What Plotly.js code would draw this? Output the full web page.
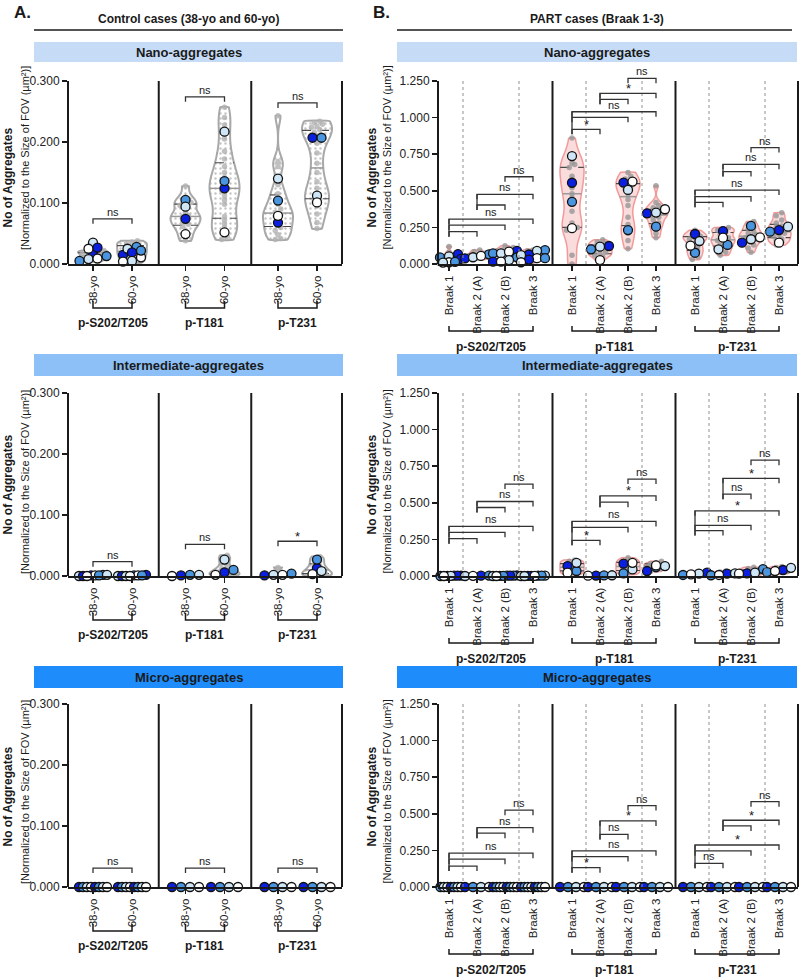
<!DOCTYPE html>
<html>
<head>
<meta charset="utf-8">
<script src="https://cdn.plot.ly/plotly-3.0.1.min.js"></script>
<style>
  html, body { margin: 0; padding: 0; background: #ffffff; }
  #chart { width: 800px; height: 978px; }
</style>
</head>
<body>
<div id="chart"></div>
<script>
// ---------- categories and labels ----------
const markerGroups = ['p-S202/T205', 'p-T181', 'p-T231'];
const ctrlCats = ['38-yo', '60-yo'];
const partCats = ['Braak 1', 'Braak 2 (A)', 'Braak 2 (B)', 'Braak 3'];
const sizeClasses = ['Nano-aggregates', 'Intermediate-aggregates', 'Micro-aggregates'];
const ctrlTickVals = [0, 0.1, 0.2, 0.3];
const partTickVals = [0, 0.25, 0.5, 0.75, 1.0, 1.25];
const yTitleMain = 'No of Aggregates';
const yTitleSub = '[Normalized to the Size of FOV (µm²)]';

// ---------- control cases: per-image values (grey) and per-case values ----------
// order: [S202 38-yo, S202 60-yo, T181 38-yo, T181 60-yo, T231 38-yo, T231 60-yo]
// per-case order: dark, mid, light, white (repeated for a second slide)
const ctrlNanoGrey = [
  [0.004, 0.006, 0.008, 0.010, 0.012, 0.013, 0.015, 0.017, 0.018, 0.020, 0.021, 0.022],
  [0.002, 0.005, 0.008, 0.012, 0.015, 0.018, 0.021, 0.024, 0.027, 0.030, 0.033, 0.036, 0.038],
  [0.128, 0.110, 0.101, 0.096, 0.085, 0.080, 0.078, 0.075, 0.070, 0.065, 0.062, 0.055, 0.045, 0.038, 0.100],
  [0.257, 0.240, 0.228, 0.205, 0.185, 0.172, 0.160, 0.150, 0.142, 0.135, 0.128, 0.124, 0.120, 0.112, 0.105, 0.098, 0.078, 0.072, 0.066, 0.060, 0.052, 0.045, 0.040],
  [0.243, 0.168, 0.160, 0.130, 0.115, 0.108, 0.098, 0.090, 0.085, 0.082, 0.078, 0.072, 0.066, 0.060, 0.055, 0.048, 0.042, 0.040],
  [0.234, 0.232, 0.229, 0.226, 0.224, 0.220, 0.216, 0.210, 0.198, 0.182, 0.165, 0.150, 0.135, 0.124, 0.116, 0.110, 0.106, 0.104, 0.095, 0.082, 0.068, 0.058]
];
const ctrlNanoCases = [
  [0.016, 0.005, 0.035, 0.025, 0.027, 0.013, 0.008, 0.009],
  [0.015, 0.028, 0.025, 0.011, 0.019, 0.022, 0.005, 0.004],
  [0.074, 0.105, 0.094, 0.049],
  [0.124, 0.136, 0.217, 0.052],
  [0.068, 0.104, 0.140, 0.079],
  [0.207, 0.207, 0.112, 0.101]
];
const ctrlInterGrey = [
  [0, 0, 0, 0.001, 0, 0.001, 0, 0],
  [0, 0.001, 0, 0, 0.001, 0, 0],
  [0, 0.001, 0, 0.002, 0.001, 0],
  [0.034, 0.030, 0.026, 0.021, 0.016, 0.012, 0.010, 0.008, 0.006, 0.004, 0.003, 0.002, 0.001, 0],
  [0.014, 0.008, 0.004, 0.002, 0.001, 0, 0],
  [0.032, 0.028, 0.024, 0.020, 0.016, 0.013, 0.010, 0.008, 0.006, 0.004, 0.002, 0.001, 0]
];
const ctrlInterCases = [
  [0.001, 0.002, 0.000, 0.001, 0.000, 0.001, 0.002, 0.000],
  [0.002, 0.001, 0.000, 0.001, 0.000, 0.001, 0.000, 0.000],
  [0.001, 0.002, 0.002, 0.000],
  [0.006, 0.010, 0.027, 0.002],
  [0.001, 0.004, 0.002, 0.002],
  [0.013, 0.027, 0.008, 0.003]
];
const ctrlMicroGrey = [[], [], [], [], [], []];
const ctrlMicroCases = [
  [0, 0, 0, 0, 0, 0, 0, 0],
  [0, 0, 0, 0, 0, 0, 0, 0],
  [0, 0, 0, 0],
  [0, 0, 0, 0],
  [0, 0, 0, 0],
  [0, 0, 0, 0]
];

// ---------- PART cases ----------
// order: S202 (Braak 1, 2A, 2B, 3), T181 (...), T231 (...)
const partNanoGrey = [
  [0.120, 0.080, 0.062, 0.050, 0.042, 0.034, 0.026, 0.020, 0.015, 0.010, 0.006, 0.003],
  [0.095, 0.085, 0.075, 0.068, 0.062, 0.055, 0.050, 0.045, 0.040, 0.035, 0.030],
  [0.125, 0.112, 0.102, 0.096, 0.090, 0.085, 0.080, 0.075, 0.070, 0.065, 0.058, 0.050, 0.040, 0.030, 0.020, 0.012],
  [0.100, 0.095, 0.090, 0.085, 0.080, 0.075, 0.070, 0.065, 0.060, 0.050, 0.040, 0.030, 0.020, 0.010],
  [0.860, 0.720, 0.690, 0.680, 0.660, 0.600, 0.570, 0.520, 0.480, 0.450, 0.360, 0.280, 0.250, 0.235, 0.230, 0.060, 0.000],
  [0.165, 0.150, 0.140, 0.130, 0.120, 0.110, 0.100, 0.090, 0.080, 0.070, 0.060, 0.050, 0.030],
  [0.625, 0.600, 0.580, 0.560, 0.545, 0.530, 0.510, 0.480, 0.440, 0.400, 0.320, 0.270, 0.240, 0.210, 0.160, 0.105],
  [0.535, 0.420, 0.400, 0.385, 0.370, 0.360, 0.350, 0.340, 0.330, 0.320, 0.300, 0.280, 0.265, 0.240, 0.210, 0.180],
  [0.230, 0.210, 0.200, 0.190, 0.180, 0.170, 0.160, 0.140, 0.120, 0.100, 0.090, 0.070, 0.050, 0.030],
  [0.250, 0.240, 0.230, 0.220, 0.200, 0.180, 0.170, 0.160, 0.150, 0.130, 0.120, 0.100, 0.080, 0.060],
  [0.290, 0.270, 0.250, 0.240, 0.220, 0.210, 0.200, 0.190, 0.180, 0.170, 0.160, 0.150, 0.130, 0.110, 0.080],
  [0.350, 0.330, 0.300, 0.280, 0.260, 0.250, 0.240, 0.220, 0.210, 0.200, 0.190, 0.170, 0.160, 0.150, 0.130]
];
const partNanoCases = [
  [0.068, 0.045, 0.052, 0.012, 0.035, 0.015, 0.010, 0.008],
  [0.039, 0.066, 0.046, 0.055],
  [0.089, 0.073, 0.073, 0.084, 0.016, 0.046, 0.027, 0.016],
  [0.065, 0.095, 0.090, 0.040, 0.030, 0.040, 0.060, 0.012],
  [0.555, 0.425, 0.737, 0.245],
  [0.123, 0.100, 0.118, 0.027],
  [0.556, 0.232, 0.506, 0.563],
  [0.346, 0.255, 0.351, 0.374],
  [0.205, 0.077, 0.157, 0.125],
  [0.225, 0.130, 0.100, 0.180],
  [0.146, 0.260, 0.169, 0.182],
  [0.232, 0.221, 0.255, 0.146]
];
const partInterGrey = [
  [0.004, 0.002, 0.001, 0, 0, 0],
  [0.002, 0.001, 0],
  [0.006, 0.004, 0.002, 0.001, 0],
  [0.004, 0.002, 0.001, 0],
  [0.110, 0.100, 0.090, 0.080, 0.070, 0.060, 0.050, 0.040, 0.030, 0.020, 0.010],
  [0.004, 0.002, 0.001, 0],
  [0.125, 0.110, 0.100, 0.090, 0.080, 0.070, 0.060, 0.050, 0.040, 0.030, 0.020, 0.010],
  [0.100, 0.090, 0.085, 0.080, 0.075, 0.070, 0.065, 0.060, 0.050, 0.040, 0.030],
  [0.030, 0.025, 0.020, 0.015, 0.010, 0.006, 0.003, 0],
  [0.035, 0.028, 0.022, 0.016, 0.012, 0.008, 0.004, 0],
  [0.060, 0.052, 0.045, 0.040, 0.034, 0.028, 0.022, 0.016, 0.010, 0.005],
  [0.065, 0.058, 0.052, 0.046, 0.040, 0.035, 0.030, 0.025, 0.020, 0.012]
];
const partInterCases = [
  [0.003, 0.002, 0.001, 0.000, 0.002, 0.000, 0.001, 0.000],
  [0.002, 0.003, 0.000, 0.001],
  [0.004, 0.003, 0.002, 0.001, 0.002, 0.001, 0.000, 0.000],
  [0.002, 0.001, 0.003, 0.000, 0.001, 0.002, 0.000, 0.001],
  [0.068, 0.034, 0.090, 0.023],
  [0.003, 0.004, 0.005, 0.002],
  [0.084, 0.018, 0.045, 0.090],
  [0.034, 0.061, 0.068, 0.072],
  [0.023, 0.007, 0.016, 0.011],
  [0.016, 0.005, 0.018, 0.007],
  [0.018, 0.047, 0.023, 0.016],
  [0.041, 0.027, 0.056, 0.034]
];
const partMicroGrey = [[], [], [], [], [], [], [], [], [], [], [], []];
const partMicroCases = [
  [0, 0, 0, 0, 0, 0, 0, 0], [0, 0, 0, 0], [0, 0, 0, 0, 0, 0, 0, 0], [0, 0, 0, 0, 0, 0, 0, 0],
  [0, 0, 0, 0], [0, 0, 0, 0], [0, 0, 0, 0], [0, 0, 0, 0],
  [0, 0, 0, 0], [0, 0, 0, 0], [0, 0, 0, 0], [0, 0, 0, 0]
];

// ---------- multiple-comparison results ----------
const ctrlSig = [['ns', 'ns', 'ns'], ['ns', 'ns', '*'], ['ns', 'ns', 'ns']];
// pairs: B1-B2A, B1-B2B, B1-B3, B2A-B2B, B2A-B3, B2B-B3 ('' = line drawn without a label)
const partPairs = [[0, 1], [0, 2], [0, 3], [1, 2], [1, 3], [2, 3]];
const partSig = [
  [['', '', 'ns', '', 'ns', 'ns'], ['*', '', 'ns', '', '*', 'ns'], ['', '', 'ns', '', 'ns', 'ns']],
  [['', '', 'ns', '', 'ns', 'ns'], ['*', '', 'ns', '', '*', 'ns'], ['', 'ns', '*', 'ns', '*', 'ns']],
  [['', '', 'ns', '', 'ns', 'ns'], ['*', '', 'ns', 'ns', '*', 'ns'], ['ns', '', '*', '', '*', 'ns']]
];

// ---------- drawing geometry ----------
const W = 800, H = 978;
const FONT = 'Liberation Sans, Arial, Helvetica, sans-serif';
const PLOT_H = 183;
const ROW_ZERO = [264, 576, 887];
const HEADER_Y = [[42, 62], [354, 376], [666, 688]];
const HEADER_COLORS = ['#c6dcf6', '#8cc0f6', '#1e8cfa'];
const TITLE_BOLD_Y = [178, 485, 797];
const TITLE_REG_Y = [158, 482, 792];
const CASE_COLORS = ['#0b1fe0', '#4a95e0', '#cfe6f7', '#ffffff'];
const COLS = [
  { left: 68, right: 342, first: 93, groupStep: 92.5, catStep: 39, yTop: 0.3,
    tickVals: ctrlTickVals, cats: ctrlCats, violinHalf: 15, greyHalf: 12, caseHalf: 14,
    header: [34, 343], titleX: [7.5, 25], bracketDrop: 44, labelDrop: 59, groupTick: 7,
    violinLine: '#a8a8a8', violinFill: null, greyColor: 'rgba(178,178,178,0.8)' },
  { left: 438, right: 798, first: 449, groupStep: 123, catStep: 28, yTop: 1.25,
    tickVals: partTickVals, cats: partCats, violinHalf: 12, greyHalf: 10, caseHalf: 12,
    header: [397, 797], titleX: [371.5, 386.5], bracketDrop: 67, labelDrop: 83, groupTick: 5,
    violinLine: '#f29a9a', violinFill: 'rgba(246,196,196,0.6)', greyColor: 'rgba(150,150,150,0.8)' }
];
// bracket heights (data units) for the significance lines
const ctrlBracketY = [[0.074, 0.274, 0.264], [0.0235, 0.052, 0.057], [0.031, 0.031, 0.031]];
const partBracketY = [
  [[0.221, 0.266, 0.307, 0.403, 0.476, 0.596], [0.920, 1.002, 1.040, 1.125, 1.166, 1.268], [0.421, 0.460, 0.505, 0.631, 0.681, 0.795]],
  [[0.255, 0.298, 0.339, 0.468, 0.509, 0.628], [0.244, 0.332, 0.373, 0.504, 0.547, 0.662], [0.310, 0.346, 0.445, 0.559, 0.667, 0.791]],
  [[0.143, 0.190, 0.231, 0.368, 0.405, 0.525], [0.132, 0.208, 0.247, 0.359, 0.451, 0.556], [0.162, 0.247, 0.287, 0.417, 0.456, 0.583]]
];

const panelGrey = [[ctrlNanoGrey, partNanoGrey], [ctrlInterGrey, partInterGrey], [ctrlMicroGrey, partMicroGrey]];
const panelCases = [[ctrlNanoCases, partNanoCases], [ctrlInterCases, partInterCases], [ctrlMicroCases, partMicroCases]];

// ---------- helpers ----------
const px2x = p => p / W;
const px2y = p => 1 - p / H;
const catX = (C, g, k) => g * C.groupStep + k * C.catStep;        // data x (1 unit = 1 px)
const catPx = (C, g, k) => C.first + catX(C, g, k);
const valPx = (r, C, v) => ROW_ZERO[r] - v * PLOT_H / C.yTop;

function quantile(sorted, p) {
  const pos = (sorted.length - 1) * p;
  const lo = Math.floor(pos), hi = Math.ceil(pos);
  return sorted[lo] + (sorted[hi] - sorted[lo]) * (pos - lo);
}

// Gaussian kernel density, scaled to a fixed maximum half-width
function violinProfile(vals, maxHalf) {
  const s = [...vals].sort((a, b) => a - b);
  const n = s.length;
  const mean = s.reduce((a, b) => a + b, 0) / n;
  const sd = Math.sqrt(s.reduce((a, b) => a + (b - mean) * (b - mean), 0) / (n - 1));
  const iqr = quantile(s, 0.75) - quantile(s, 0.25);
  let spread = Math.min(sd, iqr / 1.34);
  if (!(spread > 0)) spread = sd;
  const bw = 0.9 * spread * Math.pow(n, -0.2) * 0.65;
  const dens = y => s.reduce((acc, v) => { const u = (y - v) / bw; return acc + Math.exp(-0.5 * u * u); }, 0);
  const lo = s[0], hi = s[n - 1];
  const N = 90;
  const ys = [], ds = [];
  for (let i = 0; i <= N; i++) { const y = lo + (hi - lo) * i / N; ys.push(y); ds.push(dens(y)); }
  const dmax = Math.max(...ds);
  return {
    sorted: s, ys,
    halves: ds.map(d => maxHalf * d / dmax),
    halfAt: y => maxHalf * dens(y) / dmax
  };
}

// rows of near-equal values are spread evenly sideways
function swarmOffsets(vals, pxPerUnit, diam, maxHalf) {
  const order = vals.map((v, i) => i).sort((a, b) => vals[a] - vals[b] || a - b);
  const off = new Array(vals.length).fill(0);
  let row = [], start = 0;
  const flush = () => {
    const n = row.length;
    let step = diam;
    if (n > 1 && (n - 1) / 2 * step > maxHalf) step = 2 * maxHalf / (n - 1);
    row.forEach((j, m) => { off[j] = (m - (n - 1) / 2) * step; });
    row = [];
  };
  order.forEach(j => {
    if (row.length && (vals[j] - start) * pxPerUnit > 0.6 * diam) flush();
    if (!row.length) start = vals[j];
    row.push(j);
  });
  if (row.length) flush();
  return off;
}

// ---------- build ----------
const violinTraces = [], statTraces = [], greyTraces = [], caseTraces = [];
const shapes = [], annotations = [];
const layout = {
  width: W, height: H,
  margin: { l: 0, r: 0, t: 0, b: 0 },
  paper_bgcolor: '#ffffff', plot_bgcolor: 'rgba(0,0,0,0)',
  showlegend: false,
  font: { family: FONT, color: '#1a1a1a' },
  shapes, annotations
};

function addText(text, xp, yp, size, opts) {
  annotations.push(Object.assign({
    text, x: px2x(xp), y: px2y(yp), xref: 'paper', yref: 'paper',
    showarrow: false, xanchor: 'center', yanchor: 'middle',
    font: { family: FONT, size, color: '#1a1a1a' }
  }, opts || {}));
}
function addPath(pts, color, width, dash) {
  const d = pts.map((p, i) => (i ? 'L' : 'M') + px2x(p[0]).toFixed(5) + ',' + px2y(p[1]).toFixed(5)).join(' ');
  shapes.push({ type: 'path', path: d, xref: 'paper', yref: 'paper',
    line: { color, width, dash: dash || 'solid' } });
}
function addRect(x0, y0, x1, y1, color) {
  shapes.push({ type: 'rect', xref: 'paper', yref: 'paper', layer: 'below',
    x0: px2x(x0), x1: px2x(x1), y0: px2y(y1), y1: px2y(y0),
    fillcolor: color, line: { width: 0 } });
}

// panel letters and column titles
addText('<b>A.</b>', 22, 13, 17);
addText('<b>B.</b>', 381, 13, 17);
addText('<b>Control cases (38-yo and 60-yo)</b>', 188.5, 19, 12);
addText('<b>PART cases (Braak 1-3)</b>', 597, 19, 12);
addPath([[34, 30], [343, 30]], '#1a1a1a', 1.5);
addPath([[397, 30], [792, 30]], '#1a1a1a', 1.5);

for (let r = 0; r < 3; r++) {
  for (let c = 0; c < 2; c++) {
    const C = COLS[c];
    const n = r * 2 + c + 1;
    const xa = n === 1 ? 'x' : 'x' + n;
    const ya = n === 1 ? 'y' : 'y' + n;
    const pxU = PLOT_H / C.yTop;
    const nc = C.cats.length;
    const zero = ROW_ZERO[r], top = zero - PLOT_H;

    // header band
    addRect(C.header[0], HEADER_Y[r][0], C.header[1], HEADER_Y[r][1], HEADER_COLORS[r]);
    addText('<b>' + sizeClasses[r] + '</b>', (C.header[0] + C.header[1]) / 2, (HEADER_Y[r][0] + HEADER_Y[r][1]) / 2 + 0.5, 13);

    // axes
    const tickX = [], tickT = [];
    markerGroups.forEach((_, g) => C.cats.forEach((cat, k) => { tickX.push(catX(C, g, k)); tickT.push(cat); }));
    layout[n === 1 ? 'xaxis' : 'xaxis' + n] = {
      domain: [px2x(C.left), px2x(C.right)], range: [C.left - C.first, C.right - C.first],
      anchor: ya, tickmode: 'array', tickvals: tickX, ticktext: tickT, tickangle: -90,
      ticks: 'outside', ticklen: 5, tickwidth: 1.5, tickcolor: '#1a1a1a',
      showline: true, linewidth: 2, linecolor: '#1a1a1a', showgrid: false, zeroline: false,
      tickfont: { family: FONT, size: 11.5, color: '#222' }, fixedrange: true
    };
    layout[n === 1 ? 'yaxis' : 'yaxis' + n] = {
      domain: [px2y(zero), px2y(top)], range: [0, C.yTop],
      anchor: xa, tickmode: 'array', tickvals: C.tickVals, ticktext: C.tickVals.map(v => v.toFixed(3)),
      ticks: 'outside', ticklen: 5, tickwidth: 1.5, tickcolor: '#1a1a1a',
      showline: false, showgrid: false, zeroline: false,
      tickfont: { family: FONT, size: 12, color: '#222' }, fixedrange: true
    };

    // frame: y axis line, group dividers, right edge
    addPath([[C.left, zero], [C.left, top]], '#1a1a1a', 2);
    addPath([[C.right, zero], [C.right, top]], '#1a1a1a', 2);
    for (let g = 0; g < 2; g++) {
      const xd = catPx(C, g, nc - 1) + (C.groupStep - (nc - 1) * C.catStep) / 2;
      addPath([[xd, zero], [xd, top]], '#1a1a1a', 2);
    }
    if (c === 1) {
      for (let g = 0; g < 3; g++) {
        [0.5, 2.5].forEach(k => {
          const xd = C.first + g * C.groupStep + k * C.catStep;
          addPath([[xd, zero], [xd, top]], '#8f8f8f', 1, '3px,3px');
        });
      }
    }

    // y axis titles
    addText('<b>' + yTitleMain + '</b>', C.titleX[0], TITLE_BOLD_Y[r], 12, { textangle: -90 });
    addText(yTitleSub, C.titleX[1], TITLE_REG_Y[r], 11, { textangle: -90 });

    // group brackets and names under the tick labels
    markerGroups.forEach((name, g) => {
      const x1 = catPx(C, g, 0), x2 = catPx(C, g, nc - 1);
      const yb = zero + C.bracketDrop;
      addPath([[x1, yb - C.groupTick], [x1, yb], [x2, yb], [x2, yb - C.groupTick]], '#1a1a1a', 1.5);
      addText('<b>' + name + '</b>', (x1 + x2) / 2, zero + C.labelDrop, 12);
    });

    // violins, points
    const grey = panelGrey[r][c], cases = panelCases[r][c];
    for (let g = 0; g < 3; g++) {
      for (let k = 0; k < nc; k++) {
        const i = g * nc + k;
        const xc = catX(C, g, k);
        const vals = grey[i];
        if (vals.length >= 3) {
          const lo = Math.min(...vals), hi = Math.max(...vals);
          if ((hi - lo) * pxU >= 3) {
            const prof = violinProfile(vals, C.violinHalf);
            const xs = [], ys = [];
            prof.ys.forEach((y, j) => { xs.push(xc + prof.halves[j]); ys.push(y); });
            for (let j = prof.ys.length - 1; j >= 0; j--) { xs.push(xc - prof.halves[j]); ys.push(prof.ys[j]); }
            xs.push(xs[0]); ys.push(ys[0]);
            const vt = {
              type: 'scatter', mode: 'lines', x: xs, y: ys, xaxis: xa, yaxis: ya,
              fill: 'toself', line: { color: C.violinLine, width: c === 0 ? 2 : 1.5, shape: 'spline', smoothing: 0.6 },
              hoverinfo: 'skip'
            };
            if (C.violinFill) vt.fillcolor = C.violinFill;
            else vt.fillpattern = { shape: '.', fgcolor: '#c4c4c4', bgcolor: 'rgba(255,255,255,0.85)', size: 5, solidity: 0.18 };
            violinTraces.push(vt);
            const s = prof.sorted;
            [[0.25, 'dash', '#4a4a4a', 1.2], [0.5, 'solid', '#9a9a9a', 1.5], [0.75, 'dash', '#4a4a4a', 1.2]].forEach(q => {
              const qv = quantile(s, q[0]);
              const hw = prof.halfAt(qv);
              statTraces.push({ type: 'scatter', mode: 'lines', x: [xc - hw, xc + hw], y: [qv, qv],
                xaxis: xa, yaxis: ya, line: { color: q[2], width: q[3], dash: q[1] }, hoverinfo: 'skip' });
            });
          }
        }
        if (vals.length) {
          const off = swarmOffsets(vals, pxU, 5.5, C.greyHalf);
          greyTraces.push({ type: 'scatter', mode: 'markers', x: vals.map((v, j) => xc + off[j]), y: vals,
            xaxis: xa, yaxis: ya, cliponaxis: false, hoverinfo: 'skip',
            marker: { size: 5.5, color: C.greyColor, line: { width: 0 } } });
        }
        const cv = cases[i];
        const coff = swarmOffsets(cv, pxU, 9, C.caseHalf);
        caseTraces.push({ type: 'scatter', mode: 'markers', x: cv.map((v, j) => xc + coff[j]), y: cv,
          xaxis: xa, yaxis: ya, cliponaxis: false, hoverinfo: 'skip',
          marker: { size: 9, color: cv.map((v, j) => CASE_COLORS[j % 4]), line: { color: '#111', width: 1.3 } } });
      }
    }

    // significance brackets
    if (c === 0) {
      for (let g = 0; g < 3; g++) {
        const x1 = catPx(C, g, 0), x2 = catPx(C, g, 1);
        const yb = valPx(r, C, ctrlBracketY[r][g]);
        addPath([[x1, yb + 5], [x1, yb], [x2, yb], [x2, yb + 5]], '#333', 1.3);
        const lab = ctrlSig[r][g];
        addText(lab, (x1 + x2) / 2, yb - (lab === '*' ? 5 : 7), lab === '*' ? 13 : 11);
      }
    } else {
      for (let g = 0; g < 3; g++) {
        const ys = partBracketY[r][g].map(v => valPx(r, C, v));
        partPairs.forEach((pr, p) => {
          const x1 = catPx(C, g, pr[0]), x2 = catPx(C, g, pr[1]);
          addPath([[x1, ys[p] + 5], [x1, ys[p]], [x2, ys[p]], [x2, ys[p] + 5]], '#333', 1.3);
          const lab = partSig[r][g][p];
          if (lab) addText(lab, (x1 + x2) / 2, ys[p] - (lab === '*' ? 5 : 7), lab === '*' ? 13 : 11);
        });
        // shared left stems for comparisons starting at the same stage
        [[0, 1, 2], [3, 4]].forEach(set => {
          const x1 = catPx(C, g, partPairs[set[0]][0]);
          const yy = set.map(p => ys[p]);
          addPath([[x1, Math.max(...yy) + 5], [x1, Math.min(...yy)]], '#333', 1.3);
        });
      }
    }
  }
}

const traces = violinTraces.concat(statTraces, greyTraces, caseTraces);
Plotly.newPlot('chart', traces, layout, { staticPlot: true, displayModeBar: false });
</script>
</body>
</html>
